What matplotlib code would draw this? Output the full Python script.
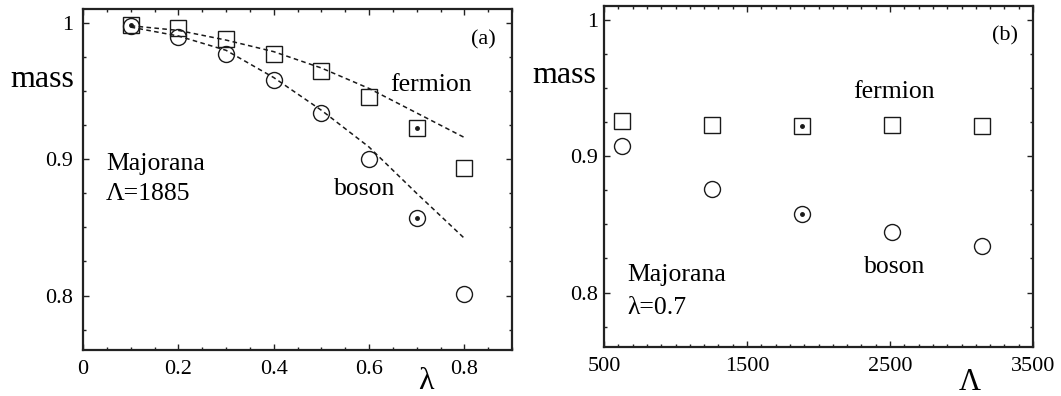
import matplotlib
matplotlib.use("Agg")
import matplotlib.pyplot as plt
from matplotlib.ticker import MultipleLocator, FixedLocator

plt.rcParams['font.family'] = ['Liberation Serif', 'DejaVu Serif']

# panel (a): mass vs lambda at Lambda=1885
lam = [0.1, 0.2, 0.3, 0.4, 0.5, 0.6, 0.7, 0.8]
fermion_a = [0.9988, 0.9963, 0.988, 0.9775, 0.9645, 0.946, 0.9228, 0.8934]
boson_a = [0.9975, 0.990, 0.9775, 0.9583, 0.934, 0.900, 0.857, 0.801]
# dashed guide curves
fermion_line = [0.998, 0.9946, 0.9875, 0.979, 0.967, 0.952, 0.934, 0.916]
boson_line = [0.997, 0.9905, 0.980, 0.960, 0.936, 0.909, 0.875, 0.842]

# panel (b): mass vs Lambda at lambda=0.7
Lam = [628, 1257, 1885, 2513, 3142]
fermion_b = [0.9256, 0.9232, 0.9224, 0.9227, 0.9224]
boson_b = [0.9073, 0.8763, 0.8573, 0.8444, 0.8341]

W, H = 1061, 396
fig = plt.figure(figsize=(W / 100, H / 100), dpi=100)
axA = fig.add_axes([83 / W, 1 - 350 / H, 429 / W, 341 / H])
axB = fig.add_axes([604 / W, 1 - 347 / H, 429 / W, 341 / H])

ink = '#1a1a1a'
mk = dict(ls='none', ms=11.5, mfc='none', mec=ink, mew=1.0)


def style(ax, ypad):
    for s in ax.spines.values():
        s.set_linewidth(1.6)
        s.set_color('#222222')
    ax.tick_params(which='both', direction='in', top=True, right=True,
                   color='#222222', labelsize=16)
    ax.tick_params(which='major', length=4, width=1)
    ax.tick_params(which='minor', length=2.2, width=1)
    ax.tick_params(axis='x', pad=7)
    ax.tick_params(axis='y', pad=ypad)
    ax.set_ylim(0.76, 1.0103)
    ax.yaxis.set_major_locator(FixedLocator([0.8, 0.9, 1.0]))
    ax.yaxis.set_major_formatter(plt.FuncFormatter(lambda v, p: f"{v:g}"))
    ax.yaxis.set_minor_locator(MultipleLocator(0.025))


# panel (a)
axA.plot(lam, fermion_line, ls=(0, (3, 2.2)), lw=1.1, color=ink)
axA.plot(lam, boson_line, ls=(0, (3, 2.2)), lw=1.1, color=ink)
axA.plot(lam, fermion_a, marker='s', **mk)
axA.plot(lam, boson_a, marker='o', **mk)
axA.plot([lam[0], lam[6], lam[6]], [fermion_a[0], fermion_a[6], boson_a[6]],
         ls='none', marker='o', ms=2.5, color=ink)
axA.set_xlim(0, 0.9)
axA.xaxis.set_major_locator(MultipleLocator(0.2))
axA.xaxis.set_major_formatter(plt.FuncFormatter(lambda v, p: f"{v:g}"))
axA.xaxis.set_minor_locator(MultipleLocator(0.05))
style(axA, 7)
axA.text(0.6435, 0.9498, 'fermion', fontsize=18.5)
axA.text(0.526, 0.8738, 'boson', fontsize=18.5)
axA.text(0.0487, 0.8922, 'Majorana', fontsize=18.5)
axA.text(0.0487, 0.870, 'Λ=1885', fontsize=18.5)
axA.text(0.8135, 0.984, '(a)', fontsize=16)

# panel (b)
axB.plot(Lam, fermion_b, marker='s', **mk)
axB.plot(Lam, boson_b, marker='o', **mk)
axB.plot([Lam[2], Lam[2]], [fermion_b[2], boson_b[2]],
         ls='none', marker='o', ms=2.5, color=ink)
axB.set_xlim(500, 3500)
axB.xaxis.set_major_locator(FixedLocator([500, 1500, 2500, 3500]))
axB.xaxis.set_minor_locator(MultipleLocator(100))
style(axB, 4)
axB.text(2245, 0.9427, 'fermion', fontsize=18.5)
axB.text(2315, 0.8146, 'boson', fontsize=18.5)
axB.text(663, 0.8085, 'Majorana', fontsize=18.5)
axB.text(663, 0.7841, 'λ=0.7', fontsize=18.5)
axB.text(3213, 0.985, '(b)', fontsize=16)

# axis labels
fig.text(10 / W, 1 - 87 / H, 'mass', fontsize=23, va='baseline', ha='left')
fig.text(532 / W, 1 - 83 / H, 'mass', fontsize=23, va='baseline', ha='left')
fig.text(426 / W, 1 - 389 / H, 'λ', fontsize=23, va='baseline', ha='center')
fig.text(970 / W, 1 - 390 / H, 'Λ', fontsize=22, va='baseline', ha='center')

fig.savefig('out.png', dpi=100)
